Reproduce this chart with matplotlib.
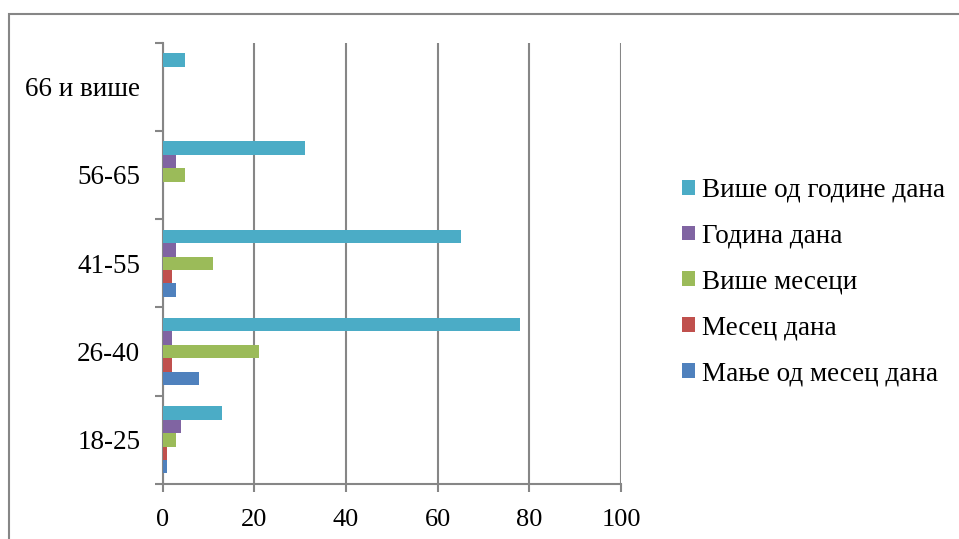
import numpy as np
import matplotlib
matplotlib.use("Agg")
import matplotlib.pyplot as plt
from matplotlib.patches import Rectangle

plt.rcParams["font.family"] = ["Liberation Serif", "DejaVu Serif"]

# ── Подаци ─────────────────────────────────────
starost = ["18-25", "26-40", "41-55", "56-65", "66 и више"]

serije = ["Мање од месец дана", "Месец дана", "Више месеци",
          "Година дана", "Више од године дана"]
boje = ["#4F81BD", "#C0504D", "#9BBB59", "#8064A2", "#4BACC6"]

manje_od_meseca = [1, 8, 3, 0, 0]
mesec_dana      = [1, 2, 2, 0, 0]
vise_meseci     = [3, 21, 11, 5, 0]
godina_dana     = [4, 2, 3, 3, 0]
vise_od_godine  = [13, 78, 65, 31, 5]

vrednosti = [manje_od_meseca, mesec_dana, vise_meseci, godina_dana, vise_od_godine]

# ── Цртање ─────────────────────────────────────
SIVA = "#868686"
fig = plt.figure(figsize=(9.59, 5.39), dpi=100)
ax = fig.add_axes([162.5/959, 55/539, (621-162.5)/959, (484-42.5)/539])

y = np.arange(len(starost))
h = 0.152
for j, (naziv, boja, vals) in enumerate(zip(serije, boje, vrednosti)):
    ax.barh(y + (j - 2) * h, vals, height=h, color=boja, label=naziv, zorder=3)

ax.set_xlim(0, 100)
ax.set_ylim(-0.5, len(starost) - 0.5)
ax.set_xticks(np.arange(0, 101, 20))
ax.grid(axis="x", color=SIVA, linewidth=1.5, zorder=0)

# ознаке категорија у средини, подеоци на границама
ax.set_yticks(y)
ax.set_yticklabels(starost)
ax.set_yticks(np.arange(-0.5, len(starost)), minor=True)
ax.tick_params(axis="y", which="major", length=0, pad=16, labelsize=19.5)
ax.tick_params(axis="y", which="minor", length=6, width=1.5, color=SIVA)
ax.tick_params(axis="x", length=6, width=1.5, color=SIVA, pad=12, labelsize=19)

for s in ["top", "right"]:
    ax.spines[s].set_visible(False)
for s in ["left", "bottom"]:
    ax.spines[s].set_color(SIVA)
    ax.spines[s].set_linewidth(1.5)

# легенда (обрнут редослед, као на графикону)
hs, ls = ax.get_legend_handles_labels()
fig.legend(hs[::-1], ls[::-1], loc="center left",
           bbox_to_anchor=(682/959, 1 - 282/539), frameon=False,
           fontsize=19.5, handlelength=0.47, handleheight=0.47,
           handletextpad=0.25, labelspacing=0.77, borderpad=0, borderaxespad=0)

# оквир графикона
fig.patches.append(Rectangle((9/959, -0.1), 1.2, 1.1 - 14/539,
                             transform=fig.transFigure, fill=False,
                             edgecolor=SIVA, linewidth=1.5))

fig.savefig("out.png", dpi=100)
